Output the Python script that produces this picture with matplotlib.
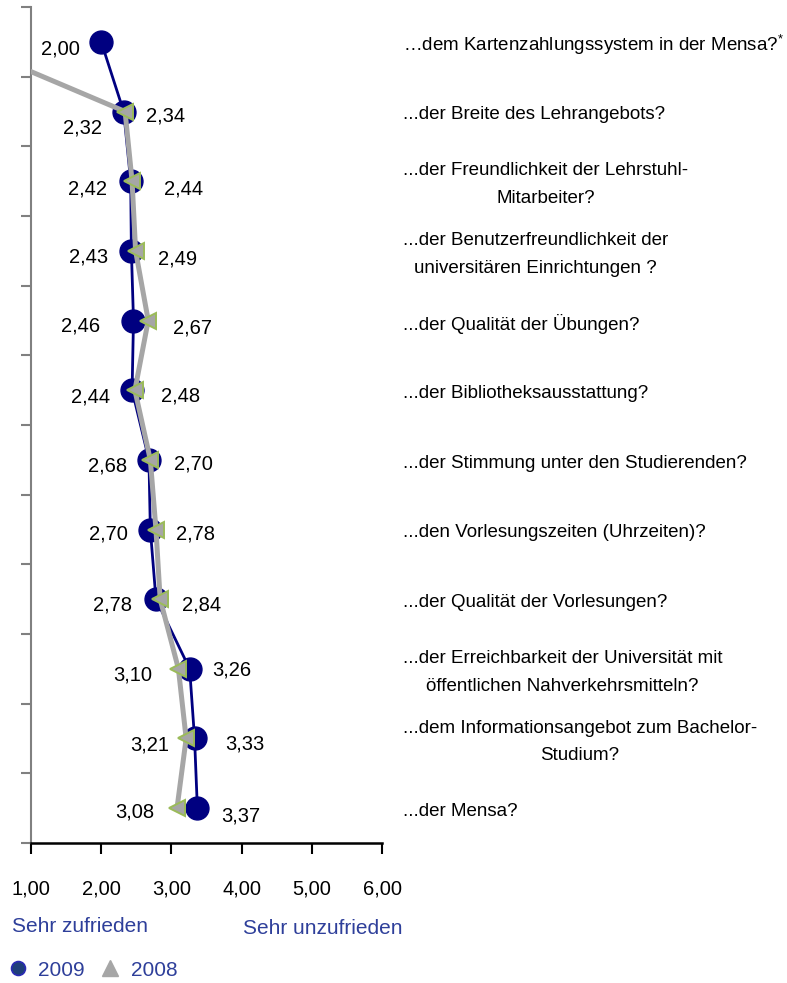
import matplotlib
matplotlib.use("Agg")
import matplotlib.pyplot as plt
from matplotlib.lines import Line2D

plt.rcParams["font.family"] = ["Liberation Sans", "DejaVu Sans"]
plt.rcParams["mathtext.fontset"] = "custom"
plt.rcParams["mathtext.rm"] = "Liberation Sans"
plt.rcParams["mathtext.it"] = "Liberation Sans"

# Survey items (top to bottom)
categories = [
    "…dem Kartenzahlungssystem in der Mensa?$^{*}$",
    "...der Breite des Lehrangebots?",
    "...der Freundlichkeit der Lehrstuhl-\nMitarbeiter?",
    "...der Benutzerfreundlichkeit der\nuniversitären Einrichtungen ?",
    "...der Qualität der Übungen?",
    "...der Bibliotheksausstattung?",
    "...der Stimmung unter den Studierenden?",
    "...den Vorlesungszeiten (Uhrzeiten)?",
    "...der Qualität der Vorlesungen?",
    "...der Erreichbarkeit der Universität mit\nöffentlichen Nahverkehrsmitteln?",
    "...dem Informationsangebot zum Bachelor-\nStudium?",
    "...der Mensa?",
]
# Mean ratings (1 = sehr zufrieden, 6 = sehr unzufrieden); 0 = not asked in 2008
values_2009 = [2.00, 2.32, 2.42, 2.43, 2.46, 2.44, 2.68, 2.70, 2.78, 3.26, 3.33, 3.37]
values_2008 = [0.00, 2.34, 2.44, 2.49, 2.67, 2.48, 2.70, 2.78, 2.84, 3.10, 3.21, 3.08]
x_ticks = [1, 2, 3, 4, 5, 6]
x_ticklabels = ["1,00", "2,00", "3,00", "4,00", "5,00", "6,00"]

# label offsets (pixels, dx right / dy down) relative to each marker
off_2009 = [(-41, 7), (-41, 16), (-43, 8), (-43, 6), (-53, 6), (-42, 7),
            (-41, 6), (-42, 5), (-43, 6), (42, 1), (50, 6), (43, 8)]
off_2008 = [None, (40, 4), (51, 8), (42, 8), (44, 8), (46, 6),
            (43, 4), (40, 5), (41, 6), (-46, 6), (-36, 7), (-42, 4)]

W, H = 787, 983
DPI = 100
fig = plt.figure(figsize=(W / DPI, H / DPI), dpi=DPI)
ax = fig.add_axes([31 / W, (H - 843) / H, 351 / W, 836 / H])

navy = "#000080"
gray = "#A6A6A6"
green = "#9BBB59"
blue_txt = "#2E3F9A"

rows = list(range(len(categories)))
ax.plot(values_2009, rows, color=navy, lw=2.0, marker="o", ms=16.5,
        markerfacecolor=navy, markeredgecolor=navy, zorder=3)
ax.plot(values_2008, rows, color=gray, lw=3.6, marker="<", ms=11.5,
        markerfacecolor=gray, markeredgecolor=green, markeredgewidth=1.4,
        zorder=4)

ax.set_xlim(1, 6)
ax.set_ylim(len(categories) - 0.5, -0.5)

px = 72 / DPI
fs = 14.5
for i, v in enumerate(values_2009):
    dx, dy = off_2009[i]
    ax.annotate(f"{v:.2f}".replace(".", ","), (v, i), xytext=(dx * px, -dy * px),
                textcoords="offset points", ha="center", va="center",
                fontsize=fs, color="black", zorder=5)
for i, v in enumerate(values_2008):
    if off_2008[i] is None:
        continue
    dx, dy = off_2008[i]
    ax.annotate(f"{v:.2f}".replace(".", ","), (v, i), xytext=(dx * px, -dy * px),
                textcoords="offset points", ha="center", va="center",
                fontsize=fs, color="black", zorder=5)

# category texts to the right of the plot
ytr = ax.get_yaxis_transform()
for i, c in enumerate(categories):
    ax.text((403 - 31) / 351, i + 0.05, c, transform=ytr, ha="left", va="center",
            multialignment="center", fontsize=13.5, linespacing=1.8,
            clip_on=False)

# axes styling
for s in ["top", "right"]:
    ax.spines[s].set_visible(False)
ax.spines["left"].set_color("#808080")
ax.spines["left"].set_linewidth(1.5)
ax.spines["bottom"].set_color("black")
ax.spines["bottom"].set_linewidth(1.8)
ax.set_yticks([r - 0.5 for r in rows] + [len(rows) - 0.5])
ax.set_yticklabels([])
ax.tick_params(axis="y", direction="out", length=7, width=1.5, color="#808080")
ax.set_xticks(x_ticks)
ax.set_xticklabels(x_ticklabels, fontsize=fs)
ax.tick_params(axis="x", direction="out", length=8, width=1.5, color="black",
               pad=18)

fig.text(12 / W, 1 - 926 / H, "Sehr zufrieden", color=blue_txt, fontsize=15,
         ha="left", va="center")
fig.text(243 / W, 1 - 929 / H, "Sehr unzufrieden", color=blue_txt, fontsize=15,
         ha="left", va="center")

handles = [
    Line2D([], [], ls="none", marker="o", ms=10, markerfacecolor="#1F3F7A",
           markeredgecolor="#2A2AB5", markeredgewidth=1.2, label="2009"),
    Line2D([], [], ls="none", marker="^", ms=12, markerfacecolor=gray,
           markeredgecolor=gray, label="2008"),
]
fig.legend(handles=handles, loc="center left", bbox_to_anchor=(3 / W, 1 - 970 / H),
           ncol=2, frameon=False, fontsize=15, labelcolor=blue_txt,
           handlelength=1.0, handletextpad=0.5, columnspacing=0.7,
           borderaxespad=0, borderpad=0.2)

fig.savefig("out.png", dpi=DPI)
